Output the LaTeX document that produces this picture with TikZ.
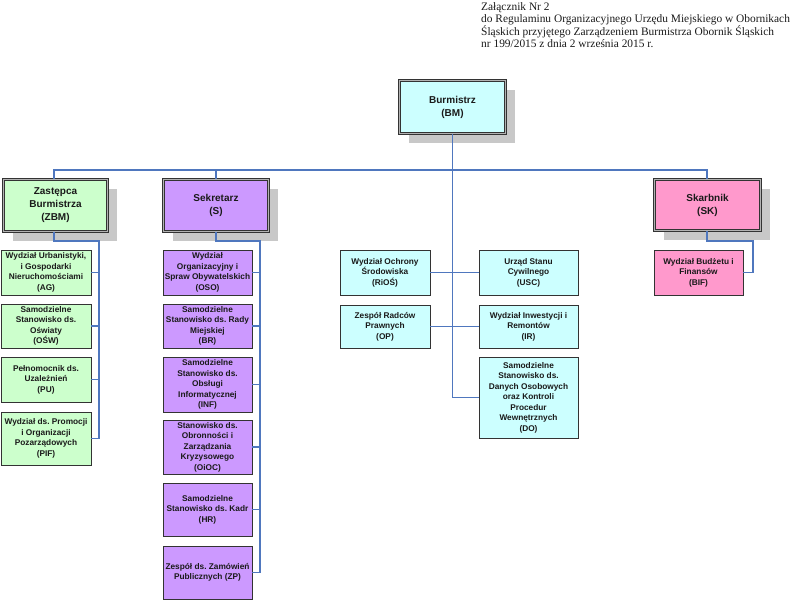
\documentclass[tikz,border=0pt]{standalone}
\usepackage{fontspec}
\setmainfont{Liberation Serif}
\setsansfont{Liberation Sans}
\usetikzlibrary{shadows}
\definecolor{cgreen}{HTML}{CCFFCC}
\definecolor{cpurple}{HTML}{CC99FF}
\definecolor{ccyan}{HTML}{CCFFFF}
\definecolor{cpink}{HTML}{FF99CC}
\definecolor{cline}{HTML}{4F77BE}
\definecolor{cshadow}{HTML}{C8C8C8}
\definecolor{cborder}{HTML}{333333}
\definecolor{ctext}{HTML}{1A1A1A}
\frenchspacing
\tikzset{
  box/.style={draw=cborder, line width=0.8pt, text=ctext, align=center, inner sep=0pt,
    font=\frenchspacing\sffamily\bfseries\fontsize{8.3}{10.5}\selectfont},
  mainbox/.style={draw=cborder, line width=0.7pt, double=gray!60, double distance=0.7pt,
    text=ctext, align=center, inner sep=0pt,
    font=\sffamily\bfseries\fontsize{10}{13}\selectfont,
    drop shadow={shadow xshift=9pt, shadow yshift=-9pt, fill=cshadow, opacity=1}},
  conn/.style={draw=cline, line width=1.4pt},
}
\begin{document}
\begin{tikzpicture}[x=1pt,y=-1pt]
\useasboundingbox (0,0) rectangle (798,600);

% header
\node[anchor=north west, inner sep=0pt, align=left, text=ctext,
  font=\frenchspacing\rmfamily\fontsize{11.4}{12}\selectfont] (hdr) at (481,2)
  {Załącznik Nr 2\\do Regulaminu Organizacyjnego Urzędu Miejskiego w Obornikach\\Śląskich przyjętego Zarządzeniem Burmistrza Obornik Śląskich\\nr 199/2015 z dnia 2 września 2015 r.};

% main boxes
\node[mainbox, fill=ccyan, minimum width=106pt, minimum height=53pt] (BM) at (452.5,107) {Burmistrz\\(BM)};
\node[mainbox, fill=cgreen, minimum width=104pt, minimum height=52pt] (ZBM) at (55.5,205.5) {Zastępca\\Burmistrza\\(ZBM)};
\node[mainbox, fill=cpurple, minimum width=105pt, minimum height=52pt] (S) at (216,205.5) {Sekretarz\\(S)};
\node[mainbox, fill=cpink, minimum width=106pt, minimum height=51pt] (SK) at (707.5,205) {Skarbnik\\(SK)};

% green children
\node[box, fill=cgreen, minimum width=90pt, minimum height=45pt] (AG) at (46,272.5) {Wydział Urbanistyki,\\i Gospodarki\\Nieruchomościami\\(AG)};
\node[box, fill=cgreen, minimum width=90pt, minimum height=44pt] (OSW) at (46,326) {Samodzielne\\Stanowisko ds.\\Oświaty\\(OŚW)};
\node[box, fill=cgreen, minimum width=90pt, minimum height=45pt] (PU) at (46,379.5) {Pełnomocnik ds.\\Uzależnień\\(PU)};
\node[box, fill=cgreen, minimum width=90pt, minimum height=53pt] (PIF) at (46,438.5) {Wydział ds. Promocji\\i Organizacji\\Pozarządowych\\(PIF)};

% purple children
\node[box, fill=cpurple, minimum width=89pt, minimum height=45pt] (OSO) at (207.5,272.5) {Wydział\\Organizacyjny i\\Spraw Obywatelskich\\(OSO)};
\node[box, fill=cpurple, minimum width=89pt, minimum height=44pt] (BR) at (207.5,326) {Samodzielne\\Stanowisko ds. Rady\\Miejskiej\\(BR)};
\node[box, fill=cpurple, minimum width=89pt, minimum height=55pt] (INF) at (207.5,384.5) {Samodzielne\\Stanowisko ds.\\Obsługi\\Informatycznej\\(INF)};
\node[box, fill=cpurple, minimum width=89pt, minimum height=54pt] (OiOC) at (207.5,447) {Stanowisko ds.\\Obronności i\\Zarządzania\\Kryzysowego\\(OiOC)};
\node[box, fill=cpurple, minimum width=89pt, minimum height=53pt] (HR) at (207.5,509.5) {Samodzielne\\Stanowisko ds. Kadr\\(HR)};
\node[box, fill=cpurple, minimum width=89pt, minimum height=53pt] (ZP) at (207.5,572.5) {Zespół ds. Zamówień\\Publicznych (ZP)};

% cyan children
\node[box, fill=ccyan, minimum width=90pt, minimum height=45pt] (RiOS) at (385,272.5) {Wydział Ochrony\\Środowiska\\(RiOŚ)};
\node[box, fill=ccyan, minimum width=90pt, minimum height=43pt] (OP) at (385,326.5) {Zespół Radców\\Prawnych\\(OP)};
\node[box, fill=ccyan, minimum width=99pt, minimum height=45pt] (USC) at (528.5,272.5) {Urząd Stanu\\Cywilnego\\(USC)};
\node[box, fill=ccyan, minimum width=99pt, minimum height=43pt] (IR) at (528.5,326.5) {Wydział Inwestycji i\\Remontów\\(IR)};
\node[box, fill=ccyan, minimum width=99pt, minimum height=81pt] (DO) at (528.5,397.5) {Samodzielne\\Stanowisko ds.\\Danych Osobowych\\oraz Kontroli\\Procedur\\Wewnętrznych\\(DO)};

% pink child
\node[box, fill=cpink, minimum width=89pt, minimum height=45pt] (BIF) at (698.5,272.5) {Wydział Budżetu i\\Finansów\\(BIF)};

% coordinates
\coordinate (hL) at (54,170);
\coordinate (hR) at (707,170);
\coordinate (zb) at (54,241);
\coordinate (zv) at (99,241);
\coordinate (sb) at (216,241);
\coordinate (sv) at (260,241);
\coordinate (mid) at (452.5,397.5);
\coordinate (kb) at (707,241);
\coordinate (kv) at (753,241);

% connectors
\draw[conn] (BM.south) -- (mid) -- (DO.west);
\draw[conn] (ZBM.north -| hL) -- (hL) -- (hR) -- (SK.north -| hR);
\draw[conn] (S.north) -- (S.north |- hL);
\draw[conn] (ZBM.south -| zb) -- (zb) -- (zv) -- (PIF.east -| zv) -- (PIF.east);
\draw[conn] (AG.east) -- (AG.east -| zv);
\draw[conn] (OSW.east) -- (OSW.east -| zv);
\draw[conn] (PU.east) -- (PU.east -| zv);
\draw[conn] (S.south) -- (sb) -- (sv) -- (ZP.east -| sv) -- (ZP.east);
\draw[conn] (OSO.east) -- (OSO.east -| sv);
\draw[conn] (BR.east) -- (BR.east -| sv);
\draw[conn] (INF.east) -- (INF.east -| sv);
\draw[conn] (OiOC.east) -- (OiOC.east -| sv);
\draw[conn] (HR.east) -- (HR.east -| sv);
\draw[conn] (RiOS.east) -- (USC.west);
\draw[conn] (OP.east) -- (IR.west);
\draw[conn] (SK.south -| kb) -- (kb) -- (kv) -- (BIF.east -| kv) -- (BIF.east);
\end{tikzpicture}
\end{document}
